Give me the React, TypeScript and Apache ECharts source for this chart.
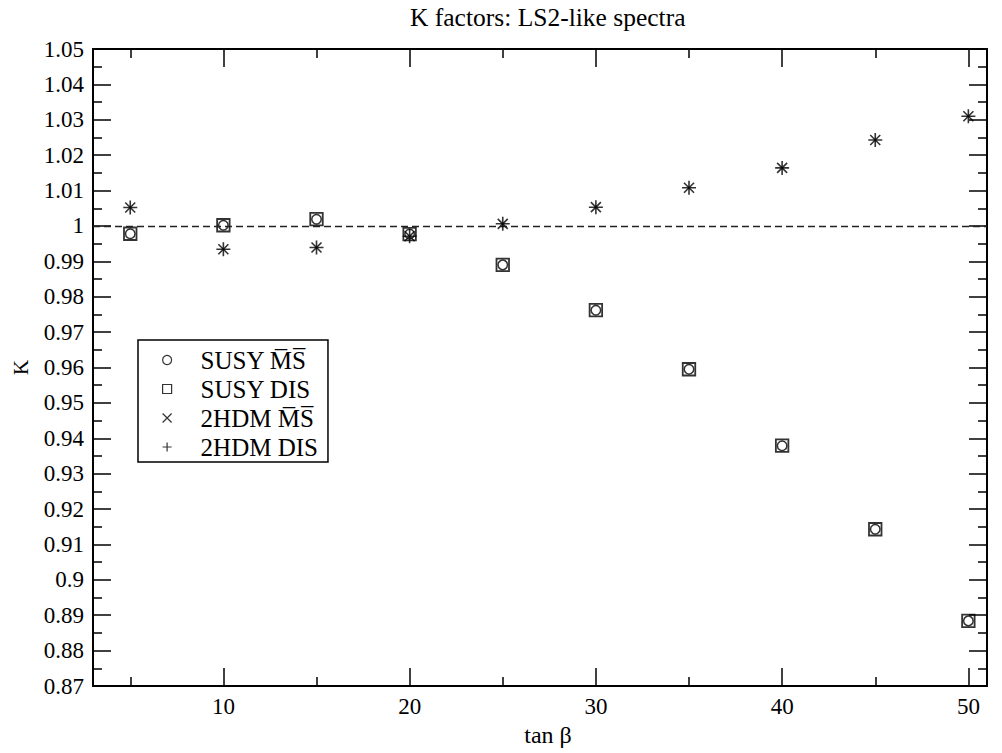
import React, { useEffect, useRef } from "react";
import * as echarts from "echarts";

// ---- data ----
const tanBeta = [5, 10, 15, 20, 25, 30, 35, 40, 45, 50];
const susyMSbar = [0.9978, 1.0002, 1.0019, 0.9977, 0.989, 0.9762, 0.9595, 0.9379, 0.9143, 0.8884];
const susyDIS = [0.9978, 1.0002, 1.0019, 0.9977, 0.989, 0.9762, 0.9595, 0.9379, 0.9143, 0.8884];
const hdmMSbar = [1.0052, 0.9934, 0.9939, 0.9971, 1.0006, 1.0053, 1.0108, 1.0164, 1.0243, 1.031];
const hdmDIS = [1.0052, 0.9934, 0.9939, 0.9971, 1.0006, 1.0053, 1.0108, 1.0164, 1.0243, 1.031];
const xMajorTicks = [10, 20, 30, 40, 50];
const xMinorTicks = [5, 15, 25, 35, 45];
const xMin = 3;
const xMax = 51;
const yMin = 0.87;
const yMax = 1.05;
const yStep = 0.01;
const refLine = 1;

const OL = "\u0305";
const names = [
  "SUSY M" + OL + "S" + OL,
  "SUSY DIS",
  "2HDM M" + OL + "S" + OL,
  "2HDM DIS",
];

const FONT = "Liberation Serif";
const crossPath = "path://M0,0L10,10M10,0L0,10";
const plusPath = "path://M5,0L5,10M0,5L10,5";

function pts(vals: number[]) {
  return tanBeta.map((x, i) => [x, vals[i]]);
}

export default function App() {
  const ref = useRef<HTMLDivElement>(null);
  useEffect(() => {
    if (!ref.current) return;
    const chart = echarts.init(ref.current, null, { renderer: "svg" });
    const black = "#000";
    const lbl = { fontFamily: FONT, fontSize: 23, color: black };
    const xAx = (pos: string, vals: number[], len: number, line: boolean, labels: boolean) => ({
      type: "value",
      position: pos,
      min: xMin,
      max: xMax,
      offset: 0,
      axisLine: { show: line, onZero: false, lineStyle: { color: black, width: 2 } },
      axisTick: { show: true, inside: true, length: len, customValues: vals, lineStyle: { color: black, width: 1.5 } },
      axisLabel: labels ? { show: true, customValues: vals, margin: 9, ...lbl } : { show: false },
      splitLine: { show: false },
    });
    const yAx = (pos: string, labels: boolean) => ({
      type: "value",
      position: pos,
      min: yMin,
      max: yMax,
      interval: yStep,
      axisLine: { show: true, onZero: false, lineStyle: { color: black, width: 2 } },
      axisTick: { show: true, inside: true, length: 18, lineStyle: { color: black, width: 1.5 } },
      minorTick: { show: true, splitNumber: 2, length: 9, lineStyle: { color: black, width: 1.5 } },
      axisLabel: labels ? { show: true, margin: 9, ...lbl } : { show: false },
      splitLine: { show: false },
      minorSplitLine: { show: false },
    });
    const xMain: any = xAx("bottom", xMajorTicks, 18, true, true);
    xMain.name = "tan β";
    xMain.nameLocation = "middle";
    xMain.nameGap = 34;
    xMain.nameTextStyle = { fontFamily: FONT, fontSize: 24, color: black, padding: [0, 0, 0, 16] };
    const yMain: any = yAx("left", true);
    yMain.name = "K";
    yMain.nameLocation = "middle";
    yMain.nameGap = 62;
    yMain.nameRotate = 90;
    yMain.nameTextStyle = { fontFamily: FONT, fontSize: 21, color: black };

    chart.setOption({
      animation: false,
      backgroundColor: "#fff",
      title: {
        text: "K factors: LS2-like spectra",
        left: 410,
        top: 4,
        padding: 0,
        textStyle: { fontFamily: FONT, fontSize: 25.5, fontWeight: "normal", color: black },
      },
      grid: { left: 93, right: 15, top: 49, bottom: 67, containLabel: false, outerBoundsMode: "none" },
      xAxis: [
        xMain,
        xAx("bottom", xMinorTicks, 9, false, false),
        xAx("top", xMajorTicks, 18, true, false),
        xAx("top", xMinorTicks, 9, false, false),
      ],
      yAxis: [yMain, yAx("right", false)],
      legend: {
        orient: "vertical",
        left: 138,
        top: 340,
        padding: [7, 10, 2, 24],
        itemGap: 3,
        itemWidth: 9,
        itemHeight: 9,
        borderColor: black,
        borderWidth: 1.5,
        backgroundColor: "#fff",
        selectedMode: false,
        itemStyle: { borderWidth: 1.2 },
        textStyle: { fontFamily: FONT, fontSize: 25, color: black, lineHeight: 26, padding: [0, 0, 0, 24] },
        data: [
          { name: names[0], icon: "circle" },
          { name: names[1], icon: "rect" },
          { name: names[2], icon: crossPath },
          { name: names[3], icon: plusPath },
        ],
      },
      series: [
        {
          name: names[1],
          type: "scatter",
          symbol: "rect",
          symbolSize: 12.5,
          itemStyle: { color: "transparent", borderColor: black, borderWidth: 1.8 },
          data: pts(susyDIS),
          markLine: {
            silent: true,
            symbol: ["none", "none"],
            label: { show: false },
            lineStyle: { color: "#222", type: [7, 4], width: 1.4 },
            data: [{ yAxis: refLine }],
          },
          z: 2,
        },
        {
          name: names[0],
          type: "scatter",
          symbol: "circle",
          symbolSize: 9.5,
          itemStyle: { color: "#fff", borderColor: black, borderWidth: 1.5 },
          data: pts(susyMSbar),
          z: 3,
        },
        {
          name: names[2],
          type: "scatter",
          symbol: crossPath,
          symbolSize: 10,
          itemStyle: { color: "transparent", borderColor: black, borderWidth: 1.6 },
          data: pts(hdmMSbar),
          z: 4,
        },
        {
          name: names[3],
          type: "scatter",
          symbol: plusPath,
          symbolSize: 14,
          itemStyle: { color: "transparent", borderColor: black, borderWidth: 1.6 },
          data: pts(hdmDIS),
          z: 5,
        },
      ],
    } as any);
    return () => chart.dispose();
  }, []);
  return (
    <div
      ref={ref}
      style={{ position: "fixed", left: 0, top: 0, width: 1002, height: 753, background: "#fff" }}
    />
  );
}
